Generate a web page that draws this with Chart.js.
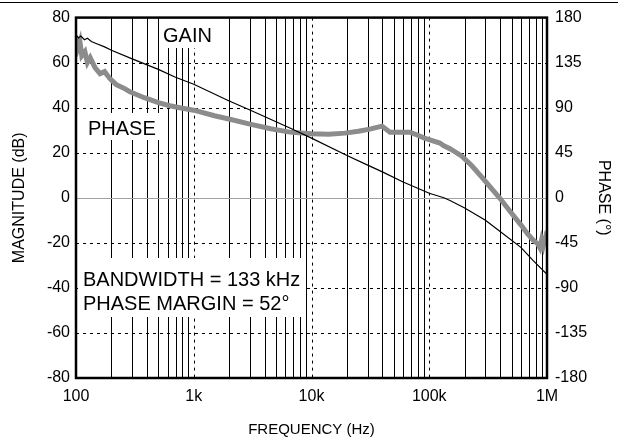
<!DOCTYPE html>
<html>
<head>
<meta charset="utf-8">
<script src="https://cdn.jsdelivr.net/npm/chart.js@4/dist/chart.umd.min.js"></script>
<style>
  html, body { margin: 0; padding: 0; background: #fff; }
  #wrap { width: 618px; height: 439px; }
</style>
</head>
<body>
<div id="wrap"><canvas id="bode"></canvas></div>
<script>
// frequency axis (Hz)
var freqTicks = [100, 1000, 10000, 100000, 1000000];
var freqTickLabels = ['100', '1k', '10k', '100k', '1M'];

// gain curve
var gainFreq = [100, 105, 110, 118, 125, 135, 150, 175, 200, 300, 500, 700, 1000, 2000, 3000, 6550, 10000, 20000, 30000, 40000, 60000, 100000, 133000, 150000, 200000, 300000, 400000, 600000, 760000, 1000000];
var gainDb   = [72.5, 71, 71.8, 70.2, 70.8, 69.4, 68.4, 67, 65.5, 61.7, 57, 53.5, 50.4, 43, 39, 31, 26.5, 18.8, 14.5, 11.5, 7, 2, 0, -1.2, -4.5, -10, -15, -22, -27.8, -34];

// phase curve
var phaseFreq = [100, 104, 108, 112, 119, 125, 132, 145, 160, 175, 194, 220, 250, 287, 330, 380, 425, 500, 627, 800, 1000, 1500, 2030, 3000, 4500, 6550, 10000, 14000, 19200, 25000, 31300, 39700, 46400, 60000, 68500, 80000, 91000, 123000, 133000, 150000, 188000, 230000, 283000, 340000, 395000, 504000, 600000, 682000, 760000, 830000, 870000, 900000, 930000, 970000, 1000000];
var phaseDeg  = [160, 150, 156, 142, 146, 135, 140, 130, 124, 126, 119, 113, 110, 106, 103, 100, 98, 95, 92, 89.5, 87.5, 82, 78.5, 73.6, 69, 65.6, 64, 63.6, 64.6, 66.5, 68.6, 71.6, 65.6, 65.6, 65.6, 62.5, 59.7, 54.7, 52, 49, 41.8, 32, 19.9, 9, 0, -15.9, -27, -35.8, -42, -45.7, -50, -42, -48, -39.8, -44];

var font = 'Liberation Sans, Arial, Helvetica, sans-serif';

function pairs(xs, ys) {
  return xs.map(function (x, i) { return { x: x, y: ys[i] }; });
}

// grid, label boxes and frame
var bodeDeco = {
  id: 'bodeDeco',
  beforeDatasetsDraw: function (chart) {
    var c = chart.ctx, a = chart.chartArea;
    var sx = chart.scales.x, sy = chart.scales.y;
    c.save();
    c.lineWidth = 1;
    // minor decade lines, solid
    c.strokeStyle = '#000';
    for (var d = 100; d < 1000000; d *= 10) {
      for (var m = 2; m <= 9; m++) {
        var px = Math.round(sx.getPixelForValue(d * m)) + 0.5;
        c.beginPath(); c.moveTo(px, a.top); c.lineTo(px, a.bottom); c.stroke();
      }
    }
    // decade lines, dotted
    c.setLineDash([3, 4]);
    freqTicks.slice(1, -1).forEach(function (f) {
      var px = Math.round(sx.getPixelForValue(f)) + 0.5;
      c.beginPath(); c.moveTo(px, a.top); c.lineTo(px, a.bottom); c.stroke();
    });
    // horizontal dotted lines
    for (var v = -60; v <= 60; v += 20) {
      if (v === 0) continue;
      var py = Math.round(sy.getPixelForValue(v)) + 0.5;
      c.beginPath(); c.moveTo(a.left, py); c.lineTo(a.right, py); c.stroke();
    }
    c.setLineDash([]);
    c.strokeStyle = '#a0a0a0';
    var zy = Math.round(sy.getPixelForValue(0)) + 0.5;
    c.beginPath(); c.moveTo(a.left, zy); c.lineTo(a.right, zy); c.stroke();

    // labels with white backgrounds
    c.fillStyle = '#fff';
    c.fillRect(159, 18, 63, 30);
    c.fillRect(82, 113, 77, 27);
    c.fillRect(78, 258, 228, 59);
    c.fillStyle = '#000';
    c.font = '20px ' + font;
    c.textBaseline = 'alphabetic';
    c.fillText('GAIN', 163, 42);
    c.fillText('PHASE', 88, 135);
    c.fillText('BANDWIDTH = 133 kHz', 83, 286);
    c.fillText('PHASE MARGIN = 52°', 83, 310);
    c.restore();
  },
  afterDraw: function (chart) {
    var c = chart.ctx, a = chart.chartArea;
    c.save();
    c.strokeStyle = '#000';
    c.lineWidth = 2.5;
    c.strokeRect(a.left, a.top, a.right - a.left, a.bottom - a.top);
    c.lineWidth = 1;
    c.beginPath(); c.moveTo(0, 2.5); c.lineTo(chart.width, 2.5); c.stroke();
    c.restore();
  }
};

var ctx = document.getElementById('bode').getContext('2d');
var grafico = new Chart(ctx, {
  type: 'line',
  data: {
    datasets: [{
      label: 'GAIN',
      data: pairs(gainFreq, gainDb),
      borderColor: '#000',
      borderWidth: 1.2,
      pointRadius: 0,
      tension: 0,
      yAxisID: 'y'
    }, {
      label: 'PHASE',
      data: pairs(phaseFreq, phaseDeg),
      borderColor: '#8c8c8c',
      borderWidth: 5,
      pointRadius: 0,
      tension: 0,
      yAxisID: 'y2'
    }]
  },
  options: {
    responsive: true,
    maintainAspectRatio: false,
    animation: false,
    layout: { padding: { top: 16, left: 0, right: 0, bottom: 0 } },
    plugins: { legend: { display: false }, tooltip: { enabled: false } },
    scales: {
      x: {
        type: 'logarithmic',
        min: 100,
        max: 1000000,
        grid: { display: false, tickLength: 0 },
        border: { display: false },
        afterBuildTicks: function (s) {
          s.ticks = freqTicks.map(function (f) { return { value: f }; });
        },
        afterFit: function (s) { s.height = 61; },
        ticks: {
          autoSkip: false,
          maxRotation: 0,
          padding: 9,
          color: '#000',
          font: { family: font, size: 16 },
          callback: function (v) {
            var i = freqTicks.indexOf(v);
            return i >= 0 ? freqTickLabels[i] : '';
          }
        },
        title: {
          display: true,
          text: 'FREQUENCY (Hz)',
          color: '#000',
          font: { family: font, size: 15 },
          padding: { top: 4, bottom: 0 }
        }
      },
      y: {
        position: 'left',
        min: -80,
        max: 80,
        grid: { display: false, tickLength: 0 },
        border: { display: false },
        afterFit: function (s) { s.width = 76; },
        ticks: {
          stepSize: 20,
          padding: 6,
          color: '#000',
          font: { family: font, size: 16 }
        },
        title: {
          display: true,
          text: 'MAGNITUDE (dB)',
          color: '#000',
          font: { family: font, size: 16 },
          padding: { top: 10, bottom: 0 }
        }
      },
      y2: {
        position: 'right',
        min: -180,
        max: 180,
        grid: { display: false, tickLength: 0 },
        border: { display: false },
        afterFit: function (s) { s.width = 71; },
        ticks: {
          stepSize: 45,
          padding: 8,
          color: '#000',
          font: { family: font, size: 16 }
        },
        title: {
          display: true,
          text: 'PHASE (°)',
          color: '#000',
          font: { family: font, size: 16 },
          padding: { top: 5, bottom: 0 }
        }
      }
    }
  },
  plugins: [bodeDeco]
});
</script>
</body>
</html>
